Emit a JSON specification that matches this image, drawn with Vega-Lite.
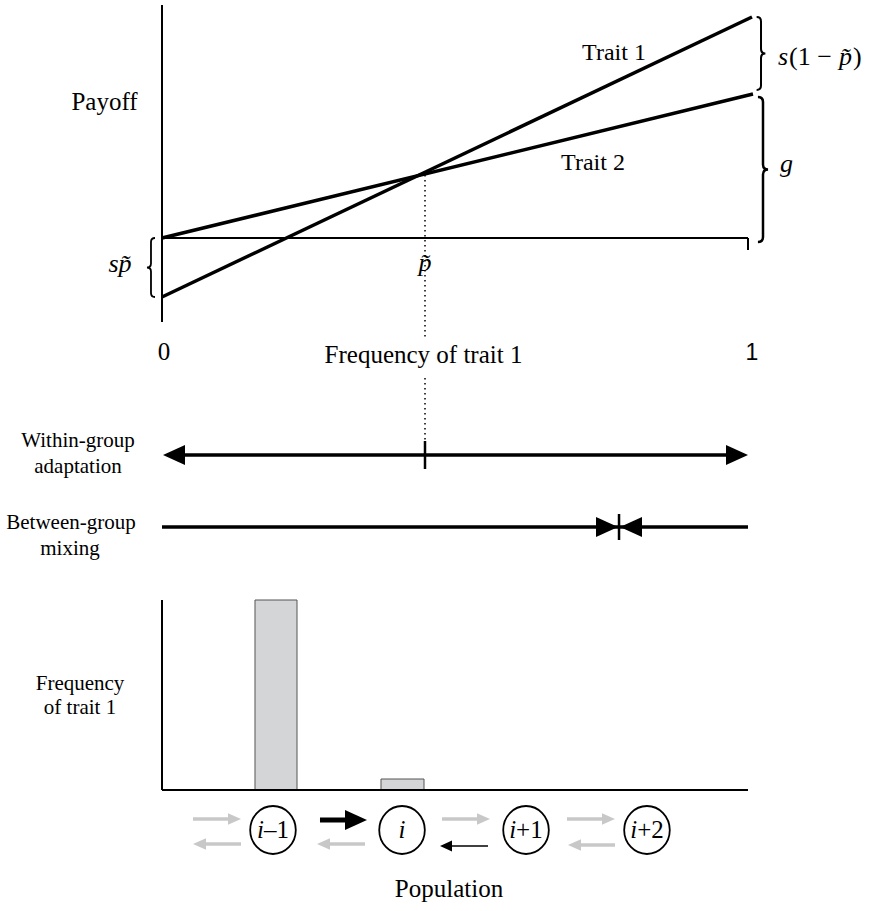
{
  "$schema": "https://vega.github.io/schema/vega-lite/v6.json",
  "width": 875,
  "height": 911,
  "autosize": {"type": "fit", "contains": "padding"},
  "padding": 0,
  "background": "white",
  "config": {"view": {"stroke": null}, "font": "Liberation Serif"},
  "datasets": {
    "axes": [
      {"x": 0, "x2": 0, "y": 5, "y2": 322},
      {"x": 0, "x2": 1, "y": 238, "y2": 238},
      {"x": 1, "x2": 1, "y": 238, "y2": 250},
      {"x": 0, "x2": 0, "y": 600, "y2": 790},
      {"x": 0, "x2": 1, "y": 790, "y2": 790}
    ],
    "payoff": [
      {"trait": "Trait 1", "x": 0, "y": 297},
      {"trait": "Trait 1", "x": 1.0068, "y": 17},
      {"trait": "Trait 2", "x": 0, "y": 238},
      {"trait": "Trait 2", "x": 1.0085, "y": 94}
    ],
    "dotted": [
      {"x": 0.4488, "x2": 0.4488, "y": 175, "y2": 340},
      {"x": 0.4488, "x2": 0.4488, "y": 378, "y2": 441}
    ],
    "dyn_shafts": [
      {"name": "Within-group adaptation", "x": 0.0222, "x2": 0.9795, "y": 455, "y2": 455},
      {"name": "Between-group mixing", "x": 0, "x2": 1, "y": 527, "y2": 527}
    ],
    "dyn_ticks": [
      {"name": "unstable point", "x": 0.4488, "x2": 0.4488, "y": 441, "y2": 469},
      {"name": "stable point", "x": 0.7799, "x2": 0.7799, "y": 514, "y2": 540}
    ],
    "big_heads": [
      {"tip": 0.0017, "y": 455, "dir": "left"},
      {"tip": 1, "y": 455, "dir": "right"},
      {"tip": 0.7782, "y": 527, "dir": "right"},
      {"tip": 0.7816, "y": 527, "dir": "left"},
      {"tip": 0.3498, "y": 820, "dir": "right"}
    ],
    "gray_arrows": [
      {"x": 0.0529, "x2": 0.1212, "tip": 0.1348, "y": 819, "y2": 819, "dir": "right"},
      {"x": 0.1348, "x2": 0.0666, "tip": 0.0529, "y": 844, "y2": 844, "dir": "left"},
      {"x": 0.3464, "x2": 0.2782, "tip": 0.2645, "y": 844, "y2": 844, "dir": "left"},
      {"x": 0.4778, "x2": 0.5461, "tip": 0.5597, "y": 819, "y2": 819, "dir": "right"},
      {"x": 0.6911, "x2": 0.7594, "tip": 0.7730, "y": 819, "y2": 819, "dir": "right"},
      {"x": 0.7730, "x2": 0.7065, "tip": 0.6928, "y": 845, "y2": 845, "dir": "left"}
    ],
    "thick_arrow": [
      {"x": 0.2696, "x2": 0.3311, "y": 820, "y2": 820}
    ],
    "thin_arrow": [
      {"x": 0.5563, "x2": 0.4881, "tip": 0.4744, "y": 846, "y2": 846, "dir": "left"}
    ],
    "bars": [
      {"pop": "i–1", "x": 0.1587, "x2": 0.2304, "y": 600, "y2": 790},
      {"pop": "i", "x": 0.3737, "x2": 0.4471, "y": 779, "y2": 790}
    ],
    "pops": [
      {"pop": "i–1", "x": 0.1894, "y": 830},
      {"pop": "i", "x": 0.4096, "y": 830},
      {"pop": "i+1", "x": 0.6212, "y": 830},
      {"pop": "i+2", "x": 0.8276, "y": 830}
    ],
    "pop_i_pre": [
      {"t": "i", "x": 0.1741, "y": 838},
      {"t": "i", "x": 0.6043, "y": 838},
      {"t": "i", "x": 0.8108, "y": 838}
    ],
    "pop_i_solo": [
      {"t": "i", "x": 0.4096, "y": 838}
    ],
    "pop_suffix": [
      {"t": "–1", "x": 0.1741, "y": 838},
      {"t": "+1", "x": 0.6043, "y": 838},
      {"t": "+2", "x": 0.8108, "y": 838}
    ],
    "labels_big": [
      {"t": "Payoff", "x": -0.0981, "y": 110},
      {"t": "Frequency of trait 1", "x": 0.4462, "y": 363},
      {"t": "0", "x": 0.0034, "y": 360},
      {"t": "Population", "x": 0.4898, "y": 897}
    ],
    "labels_trait": [
      {"t": "Trait 1", "x": 0.7713, "y": 60},
      {"t": "Trait 2", "x": 0.7355, "y": 170}
    ],
    "labels_small": [
      {"t": "Within-group", "x": -0.1433, "y": 447},
      {"t": "adaptation", "x": -0.1433, "y": 473},
      {"t": "Between-group", "x": -0.1553, "y": 529},
      {"t": "mixing", "x": -0.1570, "y": 555},
      {"t": "Frequency", "x": -0.1399, "y": 690},
      {"t": "of trait 1", "x": -0.1399, "y": 714}
    ],
    "labels_italic_center": [
      {"t": "sp\u0303", "x": -0.0717, "y": 272},
      {"t": "p\u0303", "x": 0.4488, "y": 271}
    ],
    "labels_italic_left": [
      {"t": "g", "x": 1.0546, "y": 172},
      {"t": "s", "x": 1.0512, "y": 65},
      {"t": "p\u0303", "x": 1.1553, "y": 65}
    ],
    "labels_roman_left": [
      {"t": "(1 \u2212", "x": 1.0700, "y": 65},
      {"t": ")", "x": 1.1792, "y": 65}
    ],
    "labels_sans": [
      {"t": "1", "x": 1.0068, "y": 360}
    ],
    "brace_top": [{"what": "s(1 - p~)", "x": 1.0222, "y": 53.5}],
    "brace_g": [{"what": "g", "x": 1.0256, "y": 169.5}],
    "brace_sp": [{"what": "s p~", "x": -0.0188, "y": 267.5}]
  },
  "encoding": {
    "x": {"field": "x", "type": "quantitative", "scale": {"domain": [-0.276451, 1.216724], "nice": false, "zero": false}, "axis": null},
    "y": {"field": "y", "type": "quantitative", "scale": {"domain": [0, 911], "reverse": true, "nice": false, "zero": false}, "axis": null}
  },
  "layer": [
    {
      "data": {"name": "bars"},
      "mark": {"type": "rect", "fill": "#d4d5d7", "stroke": "#555555", "strokeWidth": 1},
      "encoding": {"x2": {"field": "x2"}, "y2": {"field": "y2"}}
    },
    {
      "data": {"name": "axes"},
      "mark": {"type": "rule", "color": "black", "strokeWidth": 2},
      "encoding": {"x2": {"field": "x2"}, "y2": {"field": "y2"}}
    },
    {
      "data": {"name": "dotted"},
      "mark": {"type": "rule", "color": "black", "strokeWidth": 1.5, "strokeDash": [1.5, 3.5]},
      "encoding": {"x2": {"field": "x2"}, "y2": {"field": "y2"}}
    },
    {
      "data": {"name": "payoff"},
      "mark": {"type": "line", "color": "black", "strokeWidth": 3.5},
      "encoding": {"detail": {"field": "trait"}}
    },
    {
      "data": {"name": "dyn_shafts"},
      "mark": {"type": "rule", "color": "black", "strokeWidth": 3.5},
      "encoding": {"x2": {"field": "x2"}, "y2": {"field": "y2"}}
    },
    {
      "data": {"name": "dyn_ticks"},
      "mark": {"type": "rule", "color": "black", "strokeWidth": 2.5},
      "encoding": {"x2": {"field": "x2"}, "y2": {"field": "y2"}}
    },
    {
      "data": {"name": "big_heads"},
      "mark": {"type": "point", "filled": true, "color": "black", "size": 1936, "opacity": 1},
      "encoding": {
        "x": {"field": "tip", "type": "quantitative"},
        "shape": {"field": "dir", "type": "nominal", "scale": {"domain": ["left", "right"], "range": ["M 0 0 L 1 -0.45 L 1 0.45 Z", "M 0 0 L -1 -0.45 L -1 0.45 Z"]}, "legend": null}
      }
    },
    {
      "data": {"name": "gray_arrows"},
      "mark": {"type": "rule", "color": "#c8c8c8", "strokeWidth": 3.5},
      "encoding": {"x2": {"field": "x2"}, "y2": {"field": "y2"}}
    },
    {
      "data": {"name": "gray_arrows"},
      "mark": {"type": "point", "filled": true, "color": "#c8c8c8", "size": 676, "opacity": 1},
      "encoding": {
        "x": {"field": "tip", "type": "quantitative"},
        "shape": {"field": "dir", "type": "nominal", "legend": null}
      }
    },
    {
      "data": {"name": "thick_arrow"},
      "mark": {"type": "rule", "color": "black", "strokeWidth": 5},
      "encoding": {"x2": {"field": "x2"}, "y2": {"field": "y2"}}
    },
    {
      "data": {"name": "thin_arrow"},
      "mark": {"type": "rule", "color": "black", "strokeWidth": 1.5},
      "encoding": {"x2": {"field": "x2"}, "y2": {"field": "y2"}}
    },
    {
      "data": {"name": "thin_arrow"},
      "mark": {"type": "point", "filled": true, "color": "black", "size": 576, "opacity": 1},
      "encoding": {
        "x": {"field": "tip", "type": "quantitative"},
        "shape": {"field": "dir", "type": "nominal", "legend": null}
      }
    },
    {
      "data": {"name": "pops"},
      "mark": {"type": "point", "filled": false, "color": "black", "strokeWidth": 1.8, "size": 2304, "opacity": 1,
        "shape": "M -0.95 0 A 0.95 1 0 1 1 0.95 0 A 0.95 1 0 1 1 -0.95 0 Z"}
    },
    {
      "data": {"name": "brace_top"},
      "mark": {"type": "point", "filled": false, "color": "black", "strokeWidth": 2, "size": 5329, "opacity": 1,
        "shape": "M -0.12 -1 Q 0 -1 0 -0.88 L 0 -0.12 Q 0 0 0.12 0 Q 0 0 0 0.12 L 0 0.88 Q 0 1 -0.12 1"}
    },
    {
      "data": {"name": "brace_g"},
      "mark": {"type": "point", "filled": false, "color": "black", "strokeWidth": 2.5, "size": 21025, "opacity": 1,
        "shape": "M -0.07 -1 Q 0 -1 0 -0.93 L 0 -0.07 Q 0 0 0.07 0 Q 0 0 0 0.07 L 0 0.93 Q 0 1 -0.07 1"}
    },
    {
      "data": {"name": "brace_sp"},
      "mark": {"type": "point", "filled": false, "color": "black", "strokeWidth": 1.8, "size": 3481, "opacity": 1,
        "shape": "M 0.136 -1 Q 0 -1 0 -0.864 L 0 -0.136 Q 0 0 -0.136 0 Q 0 0 0 0.136 L 0 0.864 Q 0 1 0.136 1"}
    },
    {
      "data": {"name": "labels_big"},
      "mark": {"type": "text", "font": "Liberation Serif", "fontSize": 25, "align": "center", "baseline": "alphabetic", "color": "black"},
      "encoding": {"text": {"field": "t"}}
    },
    {
      "data": {"name": "labels_trait"},
      "mark": {"type": "text", "font": "Liberation Serif", "fontSize": 24, "align": "center", "baseline": "alphabetic", "color": "black"},
      "encoding": {"text": {"field": "t"}}
    },
    {
      "data": {"name": "labels_small"},
      "mark": {"type": "text", "font": "Liberation Serif", "fontSize": 21, "align": "center", "baseline": "alphabetic", "color": "black"},
      "encoding": {"text": {"field": "t"}}
    },
    {
      "data": {"name": "labels_italic_center"},
      "mark": {"type": "text", "font": "Liberation Serif", "fontStyle": "italic", "fontSize": 26, "align": "center", "baseline": "alphabetic", "color": "black"},
      "encoding": {"text": {"field": "t"}}
    },
    {
      "data": {"name": "labels_italic_left"},
      "mark": {"type": "text", "font": "Liberation Serif", "fontStyle": "italic", "fontSize": 26, "align": "left", "baseline": "alphabetic", "color": "black"},
      "encoding": {"text": {"field": "t"}}
    },
    {
      "data": {"name": "labels_roman_left"},
      "mark": {"type": "text", "font": "Liberation Serif", "fontSize": 26, "align": "left", "baseline": "alphabetic", "color": "black"},
      "encoding": {"text": {"field": "t"}}
    },
    {
      "data": {"name": "labels_sans"},
      "mark": {"type": "text", "font": "Liberation Sans", "fontSize": 23, "align": "center", "baseline": "alphabetic", "color": "black"},
      "encoding": {"text": {"field": "t"}}
    },
    {
      "data": {"name": "pop_i_pre"},
      "mark": {"type": "text", "font": "Liberation Serif", "fontStyle": "italic", "fontSize": 25, "align": "right", "baseline": "alphabetic", "color": "black"},
      "encoding": {"text": {"field": "t"}}
    },
    {
      "data": {"name": "pop_i_solo"},
      "mark": {"type": "text", "font": "Liberation Serif", "fontStyle": "italic", "fontSize": 25, "align": "center", "baseline": "alphabetic", "color": "black"},
      "encoding": {"text": {"field": "t"}}
    },
    {
      "data": {"name": "pop_suffix"},
      "mark": {"type": "text", "font": "Liberation Serif", "fontSize": 25, "align": "left", "baseline": "alphabetic", "color": "black"},
      "encoding": {"text": {"field": "t"}}
    }
  ]
}
